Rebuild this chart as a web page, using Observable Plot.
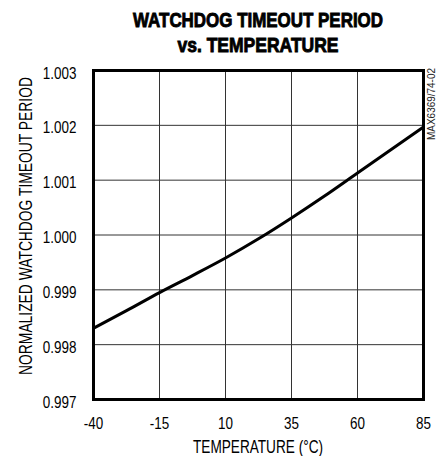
<!DOCTYPE html>
<html>
<head>
<meta charset="utf-8">
<script src="https://cdn.jsdelivr.net/npm/d3@7"></script>
<script src="https://cdn.jsdelivr.net/npm/@observablehq/plot@0.6"></script>
<style>
  html, body { margin: 0; padding: 0; background: #fff; }
  svg { display: block; }
</style>
</head>
<body>
<div id="chart"></div>
<script>
const temperature = [-40, -27.5, -15, -2.5, 10, 22.5, 35, 47.5, 60, 72.5, 85];
const period = [0.9983, 0.99862, 0.99895, 0.99926, 0.99958, 0.99993, 1.00031, 1.00071, 1.00113, 1.00155, 1.00197];
const xTicks = [-40, -15, 10, 35, 60, 85];
const yTicks = [0.997, 0.998, 0.999, 1.000, 1.001, 1.002, 1.003];
const titleLines = ["WATCHDOG TIMEOUT PERIOD", "vs. TEMPERATURE"];
const xLabel = "TEMPERATURE (°C)";
const yLabel = "NORMALIZED WATCHDOG TIMEOUT PERIOD";
const figId = "MAX6369/74-02";

const data = temperature.map((t, i) => ({t, p: period[i]}));
const FONT = "'Liberation Sans', Arial, Helvetica, sans-serif";

const chart = Plot.plot({
  width: 438,
  height: 456,
  marginTop: 70,
  marginRight: 15,
  marginBottom: 57,
  marginLeft: 93,
  style: {fontFamily: FONT, fontSize: "16px", color: "#000", background: "#fff"},
  x: {domain: [-40, 85]},
  y: {domain: [0.997, 1.003]},
  marks: [
    Plot.gridX(xTicks, {stroke: "#333", strokeOpacity: 1, strokeWidth: 1}),
    Plot.gridY(yTicks, {stroke: "#333", strokeOpacity: 1, strokeWidth: 1}),
    Plot.axisX(xTicks, {tickSize: 0, tickPadding: 18, label: null, fontSize: 16, tickFormat: d => String(d)}),
    Plot.axisY(yTicks, {tickSize: 0, tickPadding: 17, label: null, tickFormat: d3.format(".3f"), fontSize: 16, dy: 3}),
    Plot.line(data, {x: "t", y: "p", curve: "monotone-x", stroke: "#000", strokeWidth: 3}),
    Plot.frame({stroke: "#000", strokeWidth: 3})
  ]
});

document.getElementById("chart").appendChild(chart);

const svg = d3.select(chart);
// narrow the tick labels to mimic a condensed face
svg.selectAll('g[aria-label="x-axis tick label"] text, g[aria-label="y-axis tick label"] text').each(function() {
  const w = this.getComputedTextLength();
  this.setAttribute("textLength", (w * 0.84).toFixed(2));
  this.setAttribute("lengthAdjust", "spacingAndGlyphs");
});

const cx = 258;
function addText(str, attrs) {
  const t = svg.append("text").text(str).attr("font-family", FONT).attr("fill", "#000");
  for (const k in attrs) t.attr(k, attrs[k]);
  return t;
}
addText(titleLines[0], {x: cx, y: 27, "text-anchor": "middle", "font-weight": "bold", "font-size": 20.5,
  stroke: "#000", "stroke-width": 0.9, textLength: 250, lengthAdjust: "spacingAndGlyphs"});
addText(titleLines[1], {x: cx, y: 52, "text-anchor": "middle", "font-weight": "bold", "font-size": 20.5,
  stroke: "#000", "stroke-width": 0.9, textLength: 161, lengthAdjust: "spacingAndGlyphs"});
addText(xLabel, {x: cx, y: 453, "text-anchor": "middle", "font-size": 18.5,
  textLength: 130, lengthAdjust: "spacingAndGlyphs"});
// rotated y label: condense with a scale transform instead of textLength
const yl = addText(yLabel, {"text-anchor": "middle", "font-size": 18.5});
const ylw = yl.node().getComputedTextLength();
yl.attr("transform", `translate(32,226) rotate(-90) scale(${(298 / ylw).toFixed(4)},1)`);
const fl = addText(figId, {"text-anchor": "middle", "font-size": 10, fill: "#222"});
const flw = fl.node().getComputedTextLength();
fl.attr("transform", `translate(435,104) rotate(-90) scale(${(72 / flw).toFixed(4)},1)`);
</script>
</body>
</html>
